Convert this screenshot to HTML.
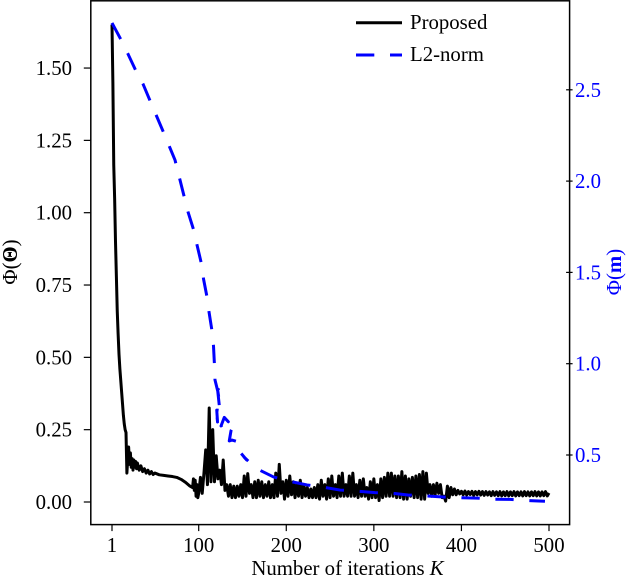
<!DOCTYPE html>
<html>
<head>
<meta charset="utf-8">
<title>Convergence chart</title>
<style>
html,body{margin:0;padding:0;background:#fff;}
#wrap{width:626px;height:576px;overflow:hidden;}
svg{display:block;}
text{font-family:"Liberation Serif",serif;font-size:20.8px;fill:#000;}
</style>
</head>
<body>
<div id="wrap">
<svg id="chart" width="626" height="576" viewBox="0 0 626 576" xmlns="http://www.w3.org/2000/svg"></svg>
</div>
<script>
const xTicks = [1, 100, 200, 300, 400, 500];
const leftTicks = [0, 0.25, 0.5, 0.75, 1, 1.25, 1.5];
const leftTickLabels = ["0.00", "0.25", "0.50", "0.75", "1.00", "1.25", "1.50"];
const rightTicks = [0.5, 1, 1.5, 2, 2.5];
const rightTickLabels = ["0.5", "1.0", "1.5", "2.0", "2.5"];

const proposedEarlyK = [1,2,3,4,5,6,7,8,9,10,11,12,13,14,15,16,17,18,19,20,21,22,23,24,25,26,27,28,29,30,32,34,36,38,40,42,44,46,48,50,55,60,65,70,75,80,85,90,93,94,95,96,97,98,99];
const proposedEarly = [1.65,1.45,1.165,1.05,0.9,0.78,0.66,0.58,0.51,0.46,0.42,0.38,0.34,0.3,0.27,0.25,0.24,0.1,0.15,0.19,0.13,0.17,0.12,0.15,0.11,0.145,0.12,0.14,0.115,0.135,0.11,0.125,0.105,0.115,0.1,0.11,0.097,0.105,0.095,0.1,0.094,0.092,0.09,0.088,0.085,0.078,0.068,0.055,0.05,0.08,0.04,0.075,0.02,0.06,0.015];

const proposedLateStartK = 100;
const proposedLateStepK = 2;
const proposedLate = [
0.03,0.085,0.03,0.1,0.18,0.06,0.325,0.07,0.25,0.07,0.16,0.08,0.11,0.06,0.145,0.04,
0.06,0.02,0.06,0.015,0.055,0.015,0.055,0.02,0.06,0.015,0.09,0.02,0.098,0.03,0.06,0.015,0.07,0.015,0.075,0.02,
0.07,0.015,0.06,0.02,0.07,0.015,0.06,0.015,0.1,0.02,0.13,0.03,0.07,0.01,0.075,0.02,0.09,0.025,0.07,0.015,
0.065,0.02,0.075,0.015,0.06,0.02,0.05,0.015,0.045,0.015,0.05,0.015,0.06,0.01,0.075,0.02,0.06,0.01,0.08,0.015,
0.09,0.02,0.06,0.015,0.09,0.02,0.1,0.02,0.06,0.02,0.09,0.02,0.1,0.02,0.06,0.015,0.075,0.02,0.08,0.02,
0.05,0.01,0.07,0.015,0.08,0.015,0.06,0.005,0.08,0.015,0.085,0.02,0.1,0.02,0.1,0.02,0.09,0.015,0.09,0.015,
0.105,0.01,0.09,0.01,0.08,0.02,0.085,0.015,0.09,0.015,0.095,0.01,0.105,0.01,0.1,0.03,0.06,0.02,0.06,0.025,
0.065,0.03,0.06,0.015,0.02,0.003,0.055,0.015,0.05,0.025,0.045,0.025,0.04,0.028,
0.037,0.025,0.038,0.024,0.036,0.026,0.037,0.023,0.036,0.025,0.037,0.024,0.036,0.023,0.036,0.024,0.035,0.022,0.036,0.023,
0.035,0.022,0.036,0.021,0.035,0.022,0.036,0.021,0.035,0.022,0.036,0.021,0.035,0.022,0.035,0.021,0.036,0.022,0.035,0.021,
0.035,0.022,0.036,0.021,0.035,0.021,0.035,0.022,0.036,0.021,0.031
];

const l2Iterations = [1,12.08,19.27,28.4,36.4,45.08,59.2,72.9,87.8,94.6,98.1,103.2,105.5,109.5,111.8,115.2,116.9,118,118.6,122,122.9,130.8,121.5,123.7,130.4,120.6,121.5,120.8,130,125.5,129.2,133.8,131.7,140.3,136.9,134.9,138,145.4,144.1,154.8,151.7,165.4,185.4,202,223.7,240.8,261.4,278.5,301.3,318.4,339,356.1,379,396.1,417.8,434.9,455.5,472.6,495.4];
const l2Norm = [2.866,2.767,2.696,2.603,2.532,2.433,2.274,2.116,1.831,1.727,1.65,1.546,1.464,1.365,1.283,1.179,1.097,0.993,0.911,0.845,0.816,0.834,0.861,0.763,0.741,0.746,0.681,0.714,0.675,0.659,0.706,0.682,0.693,0.664,0.633,0.577,0.582,0.571,0.533,0.473,0.489,0.427,0.38,0.358,0.336,0.325,0.308,0.303,0.294,0.292,0.281,0.277,0.27,0.266,0.264,0.258,0.257,0.251,0.247];

const svg = document.getElementById('chart');
const NS = 'http://www.w3.org/2000/svg';
const plot = {left: 90.8, right: 569.6, top: 0.8, bottom: 524.6};

function xScale(k) { return 112 + (k - 1) * 437 / 499; }
function yLeft(v) { return 502 - v * 289.3; }
function yRight(v) { return 455 - (v - 0.5) * 182.6; }

function make(tag, attrs, parent) {
  const el = document.createElementNS(NS, tag);
  for (const key in attrs) el.setAttribute(key, attrs[key]);
  (parent || svg).appendChild(el);
  return el;
}

function toPath(xs, ys, fx, fy) {
  return xs.map((x, i) => (i ? 'L' : 'M') + fx(x).toFixed(2) + ' ' + fy(ys[i]).toFixed(2)).join(' ');
}

/* series */
const proposedK = proposedEarlyK.slice();
const proposedV = proposedEarly.slice();
proposedLate.forEach((v, i) => {
  proposedK.push(proposedLateStartK + i * proposedLateStepK);
  proposedV.push(v);
});

const proposedLine = make('path', {d: toPath(proposedK, proposedV, xScale, yLeft), fill: 'none', stroke: '#000', 'stroke-width': 3, 'stroke-linejoin': 'round'});



const l2Line = make('path', {d: toPath(l2Iterations, l2Norm, xScale, yRight), fill: 'none', stroke: '#0000ff', 'stroke-width': 3, 'stroke-dasharray': '18.3 15.7', 'stroke-linejoin': 'round'});



/* frame */
const frame = make('rect', {x: plot.left, y: plot.top, width: plot.right - plot.left, height: plot.bottom - plot.top, fill: 'none', stroke: '#000', 'stroke-width': 1.5});



/* x axis */
xTicks.forEach((t) => {
  const x = xScale(t);
  const tick = make('line', {x1: x, x2: x, y1: plot.bottom, y2: plot.bottom + 6.5, stroke: '#000', 'stroke-width': 1.2});
  
  
  const label = make('text', {x: x, y: 552, 'text-anchor': 'middle'});
  label.textContent = String(t);
  
  
});

/* left axis */
leftTicks.forEach((t, i) => {
  const y = yLeft(t);
  const tick = make('line', {x1: plot.left - 7, x2: plot.left, y1: y, y2: y, stroke: '#000', 'stroke-width': 1.2});
  
  
  const label = make('text', {x: 72, y: y + 7, 'text-anchor': 'end'});
  label.textContent = leftTickLabels[i];
  
  
});

/* right axis */
rightTicks.forEach((t, i) => {
  const y = yRight(t);
  const tick = make('line', {x1: plot.right - 3.5, x2: plot.right + 3, y1: y, y2: y, stroke: '#000', 'stroke-width': 1.2});
  
  
  const label = make('text', {x: 575, y: y + 7, 'text-anchor': 'start', style: 'fill:#0000ff'});
  label.textContent = rightTickLabels[i];
  
  
});
</script>
<script>
/* static labels and legend */
(function () {
  const host = document.getElementById('chart');
  host.insertAdjacentHTML('beforeend', `
  <text x="347.5" y="575" text-anchor="middle">Number of iterations <tspan font-style="italic">K</tspan></text>
  <text transform="translate(17 262) rotate(-90)" text-anchor="middle">Φ(<tspan font-weight="bold">Θ</tspan>)</text>
  <text transform="translate(621 272) rotate(-90)" text-anchor="middle" style="fill:#0000ff">Φ(<tspan font-weight="bold">m</tspan>)</text>
  <g>
    <line x1="356" x2="402" y1="22.7" y2="22.7" stroke="#000" stroke-width="3"></line>
    <text x="410" y="29">Proposed</text>
    <line x1="356" x2="402" y1="55" y2="55" stroke="#0000ff" stroke-width="3" stroke-dasharray="18.3 15.7"></line>
    <text x="410" y="61">L2-norm</text>
  </g>`);
})();
</script>
</body>
</html>
